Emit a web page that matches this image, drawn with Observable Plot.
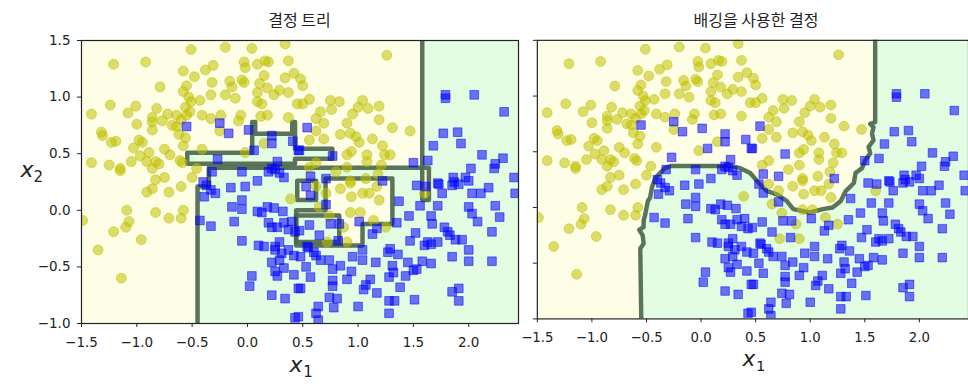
<!DOCTYPE html>
<html><head><meta charset="utf-8">
<script src="https://cdn.jsdelivr.net/npm/d3@7"></script>
<script src="https://cdn.jsdelivr.net/npm/@observablehq/plot@0.6"></script>
<style>
html,body{margin:0;padding:0;background:#fff;overflow:hidden}
#wrap{position:relative;width:968px;height:386px;overflow:hidden;background:#fff}
.svgbox{position:absolute;top:30px}
.title{position:absolute;top:9px;text-align:center;font-family:"Noto Sans CJK KR","Noto Sans",sans-serif;font-size:16px;line-height:20px;color:#222}
</style></head>
<body><div id="wrap"></div>
<script>
// ---------- data ----------
const titles = ["결정 트리", "배깅을 사용한 결정"];
const xTicks = [-1.5, -1.0, -0.5, 0.0, 0.5, 1.0, 1.5, 2.0];
const yTicks = [-1.0, -0.5, 0.0, 0.5, 1.0, 1.5];
const xDomain = [-1.5, 2.45];
const yDomain = [-1, 1.5];

// class 0 (yellow circles): [x1, x2]
const class0 = [
[-0.51,1.42],[-0.20,1.44],[0.04,1.43],[0.34,1.47],[-1.21,1.29],[-0.92,1.31],[-0.58,1.23],[-0.38,1.24],[-0.31,1.28],[-0.48,1.18],
[-0.03,1.31],[-0.02,1.26],[0.09,1.29],[0.16,1.32],[0.19,1.31],[0.37,1.32],[0.42,1.21],[0.34,1.17],[0.15,1.19],[-0.16,1.14],[-0.32,1.13],
[-0.03,1.13],[-0.14,1.09],[-0.55,1.10],[-0.79,1.09],[-0.58,1.05],[-0.33,1.02],[-0.53,1.00],[-0.43,0.97],[-0.51,0.96],[-0.20,1.02],
[-0.11,0.99],[0.09,1.04],[0.18,1.08],[0.24,1.02],[0.29,1.06],[0.37,1.04],[0.09,0.96],[0.13,0.94],[0.45,0.94],[0.11,1.12],[-0.05,1.15],
[-1.24,0.93],[-1.41,0.85],[-1.01,0.92],[-1.08,0.86],[-0.82,0.90],[-1.00,0.76],[-0.86,0.82],[-0.86,0.78],[-0.77,0.79],[-0.72,0.85],[-0.86,0.71],
[-0.68,0.75],[-0.64,0.74],[-0.64,0.84],[-0.56,0.91],[-0.55,0.84],[-0.52,0.87],[-0.41,0.84],[-0.33,0.81],[-0.24,0.84],[-0.08,0.79],
[-0.06,0.84],[0.12,0.83],[0.18,0.84],[0.37,0.82],[-0.62,0.67],[-0.56,0.64],[-1.32,0.69],[-1.31,0.66],[-1.23,0.60],[-1.19,0.61],
[-0.98,0.62],[-0.95,0.60],[-1.03,0.55],[-0.89,0.51],[-0.97,0.48],[-0.75,0.54],[-0.70,0.49],[-0.58,0.57],[-0.41,0.54],[-1.41,0.42],
[-1.25,0.40],[-1.15,0.37],[-1.15,0.35],[-1.05,0.43],[-0.91,0.43],[-0.83,0.43],[-0.80,0.41],[-0.86,0.37],[-0.75,0.29],[-0.83,0.27],[-0.61,0.44],
[-0.59,0.42],[-0.50,0.29],[-0.46,0.37],[-0.02,0.51],[0.15,0.59],[-0.60,0.80],[-0.25,0.70],
[1.26,1.37],[0.48,1.16],[0.50,1.10],[0.56,0.98],[0.50,0.94],[0.75,0.97],[0.83,0.96],[1.04,0.97],[1.00,0.91],[1.09,0.90],[1.19,0.92],
[0.66,0.87],[0.76,0.89],[0.95,0.85],[1.19,0.80],[0.62,0.81],[0.69,0.77],[0.90,0.77],[1.31,0.73],[1.47,0.70],[0.62,0.70],[0.84,0.67],
[0.93,0.68],[0.98,0.65],[1.01,0.60],[1.13,0.63],[0.56,0.62],[0.69,0.63],[1.22,0.57],[0.94,0.52],[0.90,0.49],[1.08,0.49],[1.24,0.49],
[1.29,0.49],[1.08,0.43],[1.21,0.40],[0.90,0.38],[0.80,0.34],[1.07,0.28],[1.18,0.32],[0.93,0.26],[0.62,0.42],[0.56,0.38],
[-0.91,0.16],[-0.86,0.19],[-0.71,0.16],[-0.60,0.21],[-1.09,0.00],[-0.83,-0.02],[-0.58,0.00],[-1.49,-0.09],[-1.07,-0.10],[-0.71,-0.07],
[-0.60,-0.07],[-1.21,-0.19],[-1.10,-0.15],[-0.96,-0.26],[-1.35,-0.35],[-1.14,-0.60],[0.39,0.10],
[0.71,0.15],[0.62,0.21],[0.84,0.19],[0.93,0.24],[0.94,0.12],[1.04,0.15],[1.10,0.15],[1.17,0.21],[1.19,0.09],[0.65,0.03],[0.93,-0.02],
[1.02,-0.02],[0.74,-0.05],[1.14,-0.09],[1.25,-0.15],[0.87,-0.15],[0.90,-0.28],[0.72,-0.28],[1.60,0.15]
];

// class 1 (blue squares): [x1, x2]
const class1 = [
[-0.55,0.74],[-0.25,0.77],[-0.17,0.68],[0.01,0.71],[0.22,0.66],[0.22,0.59],[0.06,0.53],[0.41,0.61],[0.46,0.53],[-0.27,0.45],
[-0.05,0.34],[0.09,0.26],[0.19,0.34],[0.22,0.37],[0.27,0.43],[0.33,0.29],[-0.32,0.34],[-0.40,0.25],[0.25,0.36],[0.29,0.33],
[0.54,0.73],[0.47,0.53],[0.77,0.48],[1.50,0.42],[1.79,1.02],[1.79,0.99],[2.05,1.02],[2.32,0.87],[1.77,0.68],[1.90,0.69],[1.68,0.57],
[1.93,0.59],[1.63,0.44],[2.12,0.49],[2.31,0.46],[2.24,0.41],[2.23,0.37],[2.02,0.37],[2.41,0.29],[1.86,0.29],[1.97,0.29],[1.87,0.25],
[2.00,0.26],[1.72,0.24],[0.57,0.30],[0.71,0.28],[1.22,0.26],
[-0.37,0.22],[-0.33,0.18],[-0.39,0.12],[-0.29,0.15],[-0.15,0.20],[-0.02,0.21],[-0.05,0.09],[-0.14,0.03],[-0.05,0.01],[0.09,-0.01],
[0.13,-0.02],[0.18,0.03],[0.24,0.02],[0.32,-0.01],[-0.43,-0.09],[-0.33,-0.14],[-0.12,-0.10],[0.19,-0.11],[0.22,-0.15],[0.27,-0.15],
[0.33,-0.11],[0.40,-0.10],[0.37,-0.17],[0.43,-0.19],[-0.05,-0.27],[0.10,-0.31],[0.15,-0.32],[0.25,-0.32],[0.29,-0.28],[0.25,-0.35],
[0.31,-0.38],[0.37,-0.35],[0.42,-0.40],[0.22,-0.46],[0.29,-0.44],[0.25,-0.54],[0.27,-0.58],[0.33,-0.51],[0.42,-0.57],[0.04,-0.58],
[0.02,-0.67],[0.22,-0.75],[0.34,-0.78],[0.46,-0.69],[0.43,-0.95],
[0.53,0.21],[0.57,0.13],[0.71,0.05],[1.37,0.08],[1.53,0.22],[1.61,0.21],[1.56,0.04],[1.72,0.04],[1.73,0.23],[1.76,0.15],[1.85,0.22],[1.91,0.23],
[2.03,0.15],[2.11,0.15],[2.18,0.20],[2.24,0.04],[2.28,-0.06],[2.42,0.15],[2.21,-0.19],[2.00,0.03],[2.03,-0.03],[2.08,-0.10],
[1.46,-0.05],[1.66,-0.05],[1.67,-0.12],[1.78,-0.15],[1.81,-0.19],[1.83,-0.22],[1.88,-0.26],[1.94,-0.26],[1.52,-0.20],[1.47,-0.27],
[1.63,-0.28],[1.66,-0.30],[1.72,-0.28],[1.60,-0.31],[2.00,-0.35],[1.85,-0.41],[2.00,-0.45],[2.21,-0.45],[1.66,-0.47],[1.58,-0.45],
[1.45,-0.46],[1.27,-0.37],[1.29,-0.34],[1.36,-0.39],[1.31,-0.49],[1.32,-0.55],[1.28,-0.59],[1.43,-0.58],[1.50,-0.53],[1.53,-0.52],
[1.16,-0.46],[1.04,-0.44],[0.94,-0.54],[0.90,-0.61],[0.84,-0.49],[0.77,-0.52],[0.74,-0.44],[0.66,-0.44],[0.53,-0.50],[0.57,-0.59],
[0.48,-0.69],[0.77,-0.62],[0.77,-0.67],[1.11,-0.61],[1.07,-0.66],[1.05,-0.70],[1.17,-0.73],[1.38,-0.68],[0.74,-0.77],[0.81,-0.78],
[0.78,-0.86],[0.64,-0.85],[0.62,-0.91],[0.64,-0.97],[0.46,-0.94],[1.00,-0.85],[1.28,-0.80],[1.33,-0.80],[1.28,-0.91],[1.51,-0.79],
[1.85,-0.72],[1.91,-0.69],[1.91,-0.80],[1.01,-0.10],[0.75,-0.12],[0.83,-0.12],[0.82,-0.27],[0.65,-0.22],[0.54,-0.32],[0.56,-0.13],
[1.13,-0.21],[1.17,-0.16],[1.35,-0.11],[1.04,-0.35],[0.95,-0.41],[0.62,-0.40],[0.47,-0.18],[0.55,-0.33],[0.60,-0.37],[0.48,-0.41]
];

// decision tree regions (class 1 = green, class 0 = yellow), polygons in data units, drawn in order
const treeGreenMain = [[-0.451,-1],[-0.451,0.21],[-0.349,0.21],[-0.349,0.375],[1.58,0.375],[1.58,1.5],[2.45,1.5],[2.45,-1]];
const treeGreenStrip = [[-0.544,0.412],[-0.544,0.509],[0.043,0.509],[0.043,0.779],[0.07,0.779],[0.07,0.676],[0.405,0.676],[0.405,0.779],[0.43,0.779],[0.43,0.544],[0.767,0.544],[0.767,0.456],[0.43,0.456],[0.43,0.412]];
const treeYellowIsland = [[0.706,0.28],[1.31,0.28],[1.31,-0.12],[1.04,-0.12],[1.04,-0.31],[0.44,-0.31],[0.44,0.0],[0.706,0.0]];
const treeYellowBox = [[0.45,0.26],[0.62,0.26],[0.62,0.09],[0.45,0.09]];
const treeGreenPocket = [[0.44,-0.045],[0.83,-0.045],[0.83,-0.28],[0.44,-0.28]];
const treeYellowSliver = [[1.58,0.375],[1.64,0.375],[1.64,0.09],[1.58,0.09]];

// bagging decision boundary (bottom to top)
const bagBoundary = [[-0.548,-1],[-0.557,-0.368],[-0.526,-0.324],[-0.535,-0.25],[-0.566,-0.2],[-0.526,-0.177],[-0.526,-0.118],
[-0.511,-0.06],[-0.487,0.059],[-0.467,0.088],[-0.451,0.176],[-0.42,0.26],[-0.376,0.309],[-0.331,0.353],[-0.271,0.373],[0.27,0.373],
[0.36,0.353],[0.45,0.309],[0.543,0.205],[0.604,0.147],[0.694,0.117],[0.784,0.059],[0.845,-0.015],[0.994,-0.045],[1.115,-0.015],
[1.205,0.0],[1.28,0.059],[1.325,0.147],[1.40,0.22],[1.415,0.309],[1.475,0.353],[1.505,0.426],[1.55,0.485],[1.535,0.544],[1.58,0.603],
[1.566,0.662],[1.58,0.72],[1.55,0.75],[1.595,0.765],[1.595,1.5]];

// ---------- drawing ----------
const YBG = "#fefee7", GBG = "#e3fde3", LINE = "#4c684e";
const fmt = d => (d < 0 ? "\u2212" : "") + Math.abs(d).toFixed(1);

function isEdge(a, b) {
  return (a[0] === b[0] && (a[0] <= xDomain[0] || a[0] >= xDomain[1])) ||
         (a[1] === b[1] && (a[1] <= yDomain[0] || a[1] >= yDomain[1]));
}
function outlines(polys) {
  const out = []; let k = 0;
  for (const p of polys) {
    const pts = p.pts.concat([p.pts[0]]);
    let run = [];
    const flush = () => { if (run.length) { run.forEach(q => out.push({x: q[0], y: q[1], z: k})); k++; run = []; } };
    for (let i = 0; i < pts.length - 1; i++) {
      const a = pts[i], b = pts[i + 1];
      if (isEdge(a, b)) { flush(); continue; }
      if (!run.length) run.push(a);
      run.push(b);
    }
    flush();
  }
  return out;
}

function panel({width, marginLeft, marginRight, regions, lines, yLabels}) {
  const marks = [Plot.frame({fill: YBG, stroke: null})];
  for (const r of regions) {
    marks.push(Plot.line(r.pts, {x: d => d[0], y: d => d[1], fill: r.cls ? GBG : YBG, stroke: "none", clip: true}));
  }
  marks.push(Plot.line(lines, {x: "x", y: "y", z: "z", stroke: LINE, strokeWidth: 4.5, strokeOpacity: 0.92,
    strokeLinejoin: "round", strokeLinecap: "round", clip: true}));
  marks.push(Plot.dot(class0, {x: d => d[0], y: d => d[1], r: 5, fill: "#bfbf00", fillOpacity: 0.55,
    stroke: "#bfbf00", strokeOpacity: 0.5, strokeWidth: 1, clip: true}));
  marks.push(Plot.dot(class1, {x: d => d[0], y: d => d[1], r: 4.9, symbol: "square", fill: "#0000ff", fillOpacity: 0.55,
    stroke: "#0000ff", strokeOpacity: 0.5, strokeWidth: 1, clip: true}));
  marks.push(Plot.frame({stroke: "#222", strokeWidth: 1.2}));
  marks.push(Plot.axisX({ticks: xTicks, tickFormat: fmt, tickSize: 4, tickPadding: 10, label: null, stroke: "#222"}));
  marks.push(Plot.axisY({ticks: yTicks, tickFormat: yLabels ? fmt : () => "", tickSize: 4, tickPadding: 7, label: null, stroke: "#222"}));
  marks.push(Plot.text(["x"], {frameAnchor: "bottom", text: d => d, dx: -4, dy: 48, fontSize: 22, fontStyle: "italic", fill: "#222"}));
  marks.push(Plot.text(["1"], {frameAnchor: "bottom", text: d => d, dx: 8, dy: 53, fontSize: 15, fill: "#222"}));
  if (yLabels) {
    marks.push(Plot.text(["x"], {frameAnchor: "left", text: d => d, dx: -61, dy: -12, fontSize: 22, fontStyle: "italic", fill: "#222"}));
    marks.push(Plot.text(["2"], {frameAnchor: "left", text: d => d, dx: -48, dy: -5, fontSize: 15, fill: "#222"}));
  }
  return Plot.plot({
    width, height: 356, marginTop: 10, marginBottom: 63, marginLeft, marginRight,
    x: {domain: xDomain}, y: {domain: yDomain},
    style: {fontFamily: "DejaVu Sans", fontSize: "13.5px", color: "#222", background: "transparent", overflow: "visible"},
    marks
  });
}

const wrap = document.getElementById("wrap");
const treeRegions = [
  {cls: 1, pts: treeGreenMain}, {cls: 1, pts: treeGreenStrip}, {cls: 0, pts: treeYellowIsland},
  {cls: 0, pts: treeYellowBox}, {cls: 1, pts: treeGreenPocket}, {cls: 0, pts: treeYellowSliver}
];
const left = panel({width: 528, marginLeft: 81, marginRight: 10, regions: treeRegions, lines: outlines(treeRegions), yLabels: true});
const bagPoly = bagBoundary.concat([[xDomain[1], yDomain[1]], [xDomain[1], yDomain[0]]]);
const bagLines = bagBoundary.map(p => ({x: p[0], y: p[1], z: 0}));
const right = panel({width: 448, marginLeft: 10, marginRight: 0, regions: [{cls: 1, pts: bagPoly}], lines: bagLines, yLabels: false});

const b1 = document.createElement("div"); b1.className = "svgbox"; b1.style.left = "0px"; b1.appendChild(left); wrap.appendChild(b1);
const b2 = document.createElement("div"); b2.className = "svgbox"; b2.style.left = "527px"; b2.appendChild(right); wrap.appendChild(b2);
[[titles[0], 81, 437], [titles[1], 537, 438]].forEach(([t, l, w]) => {
  const d = document.createElement("div"); d.className = "title"; d.textContent = t;
  d.style.left = l + "px"; d.style.width = w + "px"; wrap.appendChild(d);
});
</script></body></html>
